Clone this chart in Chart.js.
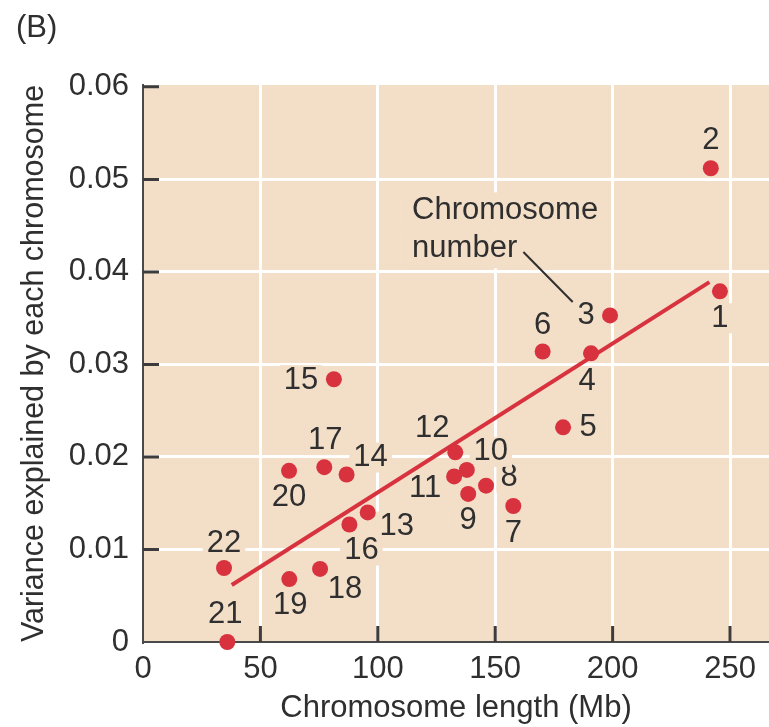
<!DOCTYPE html>
<html>
<head>
<meta charset="utf-8">
<script src="https://cdn.jsdelivr.net/npm/chart.js@4.4.1/dist/chart.umd.min.js"></script>
<style>
  html, body { margin: 0; padding: 0; background: #fff; }
  #wrap { width: 769px; height: 727px; position: relative; }
</style>
</head>
<body>
<div id="wrap"><canvas id="chart" width="769" height="727"></canvas></div>
<script>
// chromosome number, length (Mb), variance explained
const chromosomes = ["1", "2", "3", "4", "5", "6", "7", "8", "9", "10", "11",
  "12", "13", "14", "15", "16", "17", "18", "19", "20", "21", "22"];
const lengthMb = [245.7, 241.8, 198.9, 190.8, 178.9, 170.2, 157.7, 146.1, 138.5, 137.9, 132.5,
  133.0, 95.7, 86.7, 81.3, 87.9, 77.2, 75.4, 62.3, 62.2, 35.9, 34.5];
const variance = [0.0379, 0.0512, 0.0353, 0.0312, 0.0232, 0.0314, 0.0147, 0.0169, 0.0160, 0.0186, 0.0179,
  0.0205, 0.0140, 0.0181, 0.0284, 0.0127, 0.0189, 0.0079, 0.0068, 0.0185, 0.0, 0.0080];
// label offsets from the dot, in pixels
const labelDx = [0, 0, -24, -4, 25, 0, 0, 23, 0, 24, -29, -23, 29, 24, -33, 12, 1, 25, 1, 0, -2, 0];
const labelDy = [27, -28, 0, 28, 0, -26, 27, -8, 26, -18, 12, -24, 14, -17, 1, 26, -27, 21, 26, 27, -28, -25];

// fitted regression line
const fitX = [37.8, 241.2];
const fitY = [0.00616, 0.0389];

// "Chromosome number" annotation and its leader line
const noteLines = ["Chromosome", "number"];
const noteX = 114.6;
const noteY = [0.04665, 0.04255];
const leaderX = [162.0, 183.0];
const leaderY = [0.04215, 0.03675];

const xTicks = [0, 50, 100, 150, 200, 250];
const yTicks = [0, 0.01, 0.02, 0.03, 0.04, 0.05, 0.06];

const FONT = "'Liberation Sans', Arial, sans-serif";
const FS = 31;
const TEXT = "#2f2f2f";
const BG = "#F3DEC8";
const RED = "#D8323F";

const plotBg = {
  id: "plotBg",
  beforeDraw(chart) {
    const { ctx, chartArea: a } = chart;
    ctx.save();
    ctx.fillStyle = BG;
    ctx.fillRect(a.left, a.top, a.right - a.left, a.bottom - a.top);
    ctx.restore();
  }
};

// point labels + annotation text, drawn over the grid but under the marks
const labels = {
  id: "labels",
  beforeDatasetsDraw(chart) {
    const { ctx, scales: { x, y } } = chart;
    ctx.save();
    ctx.font = FS + "px " + FONT;
    ctx.textBaseline = "middle";
    chromosomes.forEach((c, i) => {
      const px = x.getPixelForValue(lengthMb[i]) + labelDx[i];
      const py = y.getPixelForValue(variance[i]) + labelDy[i];
      const w = ctx.measureText(c).width;
      ctx.fillStyle = BG;
      ctx.fillRect(px - w / 2 - 4, py - 15, w + 8, 30);
      ctx.fillStyle = TEXT;
      ctx.textAlign = "center";
      ctx.fillText(c, px, py);
    });
    ctx.textAlign = "left";
    noteLines.forEach((t, i) => {
      const px = x.getPixelForValue(noteX);
      const py = y.getPixelForValue(noteY[i]);
      const w = ctx.measureText(t).width;
      ctx.fillStyle = BG;
      ctx.fillRect(px - 5, py - 18, w + 10, 38);
      ctx.fillStyle = TEXT;
      ctx.fillText(t, px, py);
    });
    ctx.fillStyle = TEXT;
    ctx.fillText("(B)", 16, 28);
    ctx.restore();
  }
};

// short dark ticks pointing into the plot
const innerTicks = {
  id: "innerTicks",
  afterDatasetsDraw(chart) {
    const { ctx, chartArea: a, scales: { x, y } } = chart;
    ctx.save();
    ctx.strokeStyle = "#3c3c3c";
    ctx.lineWidth = 3;
    ctx.beginPath();
    xTicks.slice(1).forEach(v => {
      const px = x.getPixelForValue(v);
      ctx.moveTo(px, a.bottom);
      ctx.lineTo(px, a.bottom - 16);
    });
    yTicks.slice(1).forEach(v => {
      const py = y.getPixelForValue(v);
      ctx.moveTo(a.left, py);
      ctx.lineTo(a.left + 16, py);
    });
    ctx.stroke();
    ctx.restore();
  }
};

new Chart(document.getElementById("chart"), {
  type: "scatter",
  data: {
    datasets: [
      {
        type: "line",
        data: leaderX.map((v, i) => ({ x: v, y: leaderY[i] })),
        borderColor: "#2f2f2f",
        borderWidth: 2,
        pointRadius: 0,
        order: 3
      },
      {
        type: "line",
        data: fitX.map((v, i) => ({ x: v, y: fitY[i] })),
        borderColor: RED,
        borderWidth: 4,
        pointRadius: 0,
        order: 2
      },
      {
        data: lengthMb.map((v, i) => ({ x: v, y: variance[i] })),
        backgroundColor: RED,
        borderWidth: 0,
        pointRadius: 8,
        clip: false,
        order: 1
      }
    ]
  },
  options: {
    responsive: false,
    animation: false,
    layout: { autoPadding: false, padding: { top: 85, right: 0, left: 0, bottom: 0 } },
    plugins: { legend: { display: false }, tooltip: { enabled: false } },
    scales: {
      x: {
        type: "linear",
        min: 0,
        max: 266.6,
        afterBuildTicks: s => { s.ticks = xTicks.map(v => ({ value: v })); },
        afterFit: s => { s.height = 85; s.paddingRight = 0; s.paddingLeft = 0; },
        grid: {
          color: ctx => ctx.tick && ctx.tick.value === 0 ? "rgba(0,0,0,0)" : "#ffffff",
          lineWidth: 3,
          drawTicks: false
        },
        border: { color: "#4a4a4a", width: 2 },
        ticks: {
          color: TEXT,
          font: { family: FONT, size: FS },
          padding: 9,
          maxRotation: 0
        },
        title: {
          display: true,
          text: "Chromosome length (Mb)",
          color: TEXT,
          font: { family: FONT, size: FS },
          padding: { top: 0, bottom: 0 }
        }
      },
      y: {
        min: 0,
        max: 0.0602,
        afterBuildTicks: s => { s.ticks = yTicks.map(v => ({ value: v })); },
        afterFit: s => { s.width = 143; },
        grid: {
          color: ctx => ctx.tick && (ctx.tick.value === 0 || ctx.tick.value === 0.06) ? "rgba(0,0,0,0)" : "#ffffff",
          lineWidth: 3,
          drawTicks: false
        },
        border: { color: "#4a4a4a", width: 2 },
        ticks: {
          color: TEXT,
          font: { family: FONT, size: FS },
          padding: 14,
          callback: v => String(v)
        },
        title: {
          display: true,
          text: "Variance explained by each chromosome",
          color: TEXT,
          font: { family: FONT, size: 30.5 },
          padding: { top: 16, bottom: 0 }
        }
      }
    }
  },
  plugins: [plotBg, labels, innerTicks]
});
</script>
</body>
</html>
